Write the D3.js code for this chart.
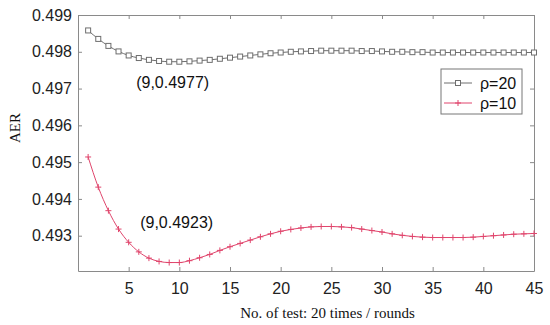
<!DOCTYPE html>
<html>
<head>
<meta charset="utf-8">
<script src="https://cdn.jsdelivr.net/npm/d3@7"></script>
<style>
  body { margin: 0; background: #fff; }
  .tick text { font-family: "Liberation Sans", Arial, sans-serif; font-size: 16px; fill: #222; }
</style>
</head>
<body>
<div id="chart"></div>
<script>
/* values, x = 1..45 */
var rounds = d3.range(1, 46);

var rho20 = [0.49858, 0.49835, 0.49816, 0.49801, 0.49790, 0.49783, 0.49778, 0.49775, 0.49773, 0.49773,
             0.49774, 0.49776, 0.49778, 0.49781, 0.49784, 0.49787, 0.49790, 0.49793, 0.49796, 0.49798,
             0.49800, 0.49801, 0.49802, 0.49803, 0.49803, 0.49803, 0.49803, 0.49802, 0.49802, 0.49801,
             0.49800, 0.49800, 0.49799, 0.49799, 0.49798, 0.49798, 0.49798, 0.49798, 0.49798, 0.49798,
             0.49798, 0.49798, 0.49798, 0.49798, 0.49798];

var rho10 = [0.49514, 0.49432, 0.49368, 0.49318, 0.49282, 0.49256, 0.49239, 0.49230, 0.49227, 0.49227,
             0.49232, 0.49240, 0.49249, 0.49260, 0.49270, 0.49279, 0.49288, 0.49297, 0.49305, 0.49312,
             0.49317, 0.49321, 0.49324, 0.49325, 0.49325, 0.49324, 0.49322, 0.49318, 0.49314, 0.49310,
             0.49305, 0.49301, 0.49298, 0.49296, 0.49295, 0.49295, 0.49295, 0.49295, 0.49296, 0.49298,
             0.49300, 0.49302, 0.49304, 0.49305, 0.49306];

var xTicks = [5, 10, 15, 20, 25, 30, 35, 40, 45];
var yTicks = [0.493, 0.494, 0.495, 0.496, 0.497, 0.498, 0.499];

var notes = [
  {x: 9, y: 0.4977, text: "(9,0.4977)"},
  {x: 9, y: 0.4923, text: "(9,0.4923)"}
];

var width = 550, height = 325;
var margin = {top: 15, right: 15, bottom: 54, left: 78};
var innerW = width - margin.left - margin.right,
    innerH = height - margin.top - margin.bottom;

var svg = d3.select("#chart").append("svg")
  .attr("width", width)
  .attr("height", height);

var g = svg.append("g")
  .attr("transform", "translate(" + margin.left + "," + margin.top + ")");

var x = d3.scaleLinear().domain([0, 45]).range([0, innerW - 1]);
var y = d3.scaleLinear().domain([0.49204, 0.499]).range([innerH, 0]);

var axisColor = "#8a8a8a";

// axes, ticks pointing inward
var xAxis = g.append("g")
  .attr("transform", "translate(0," + innerH + ")")
  .call(d3.axisBottom(x).tickValues(xTicks).tickSizeInner(-4).tickSizeOuter(0).tickPadding(12));
var yAxis = g.append("g")
  .call(d3.axisLeft(y).tickValues(yTicks).tickFormat(d3.format(".3f")).tickSizeInner(-4).tickSizeOuter(0).tickPadding(6));
var xTop = g.append("g")
  .call(d3.axisTop(x).tickValues(xTicks).tickSizeInner(-4).tickSizeOuter(0).tickFormat(""));
var yRight = g.append("g")
  .attr("transform", "translate(" + x(45) + ",0)")
  .call(d3.axisRight(y).tickValues(yTicks).tickSizeInner(-4).tickSizeOuter(0).tickFormat(""));

[xAxis, yAxis, xTop, yRight].forEach(function(a) {
  a.selectAll(".domain, .tick line").attr("stroke", axisColor);
});

var line = d3.line()
  .x(function(d, i) { return x(rounds[i]); })
  .y(function(d) { return y(d); })
  .curve(d3.curveMonotoneX);

var gray = "#6e6e6e", red = "#e0456c";

g.append("path").datum(rho20)
  .attr("fill", "none").attr("stroke", gray).attr("stroke-width", 1)
  .attr("d", line);

g.selectAll(".sq").data(rho20).enter().append("rect")
  .attr("class", "sq")
  .attr("x", function(d, i) { return x(rounds[i]) - 2.5; })
  .attr("y", function(d) { return y(d) - 2.5; })
  .attr("width", 5).attr("height", 5)
  .attr("fill", "#fff").attr("stroke", gray).attr("stroke-width", 1);

g.append("path").datum(rho10)
  .attr("fill", "none").attr("stroke", red).attr("stroke-width", 1)
  .attr("d", line);

g.selectAll(".pl").data(rho10).enter().append("path")
  .attr("class", "pl")
  .attr("transform", function(d, i) { return "translate(" + x(rounds[i]) + "," + y(d) + ")"; })
  .attr("d", "M-3,0H3M0,-3V3")
  .attr("stroke", red).attr("stroke-width", 1).attr("fill", "none");

// annotations
g.selectAll(".note").data(notes).enter().append("text")
  .attr("x", function(d, i) { return x(d.x) - (i == 0 ? 33 : 29); })
  .attr("y", function(d, i) { return i == 0 ? y(d.y) + 25 : y(d.y) - 33; })
  .attr("font-family", "Liberation Sans, Arial, sans-serif")
  .attr("font-size", 16)
  .attr("fill", "#111")
  .text(function(d) { return d.text; });

// legend
var lg = g.append("g").attr("transform", "translate(" + (441 - margin.left) + "," + (69 - margin.top) + ")");
lg.append("rect").attr("width", 81).attr("height", 45)
  .attr("fill", "#fff").attr("stroke", "#777").attr("stroke-width", 1);
var items = [{label: "ρ=20", color: gray, mark: "sq"}, {label: "ρ=10", color: red, mark: "pl"}];
items.forEach(function(it, i) {
  var yy = 14 + i * 20;
  lg.append("line").attr("x1", 3).attr("x2", 31).attr("y1", yy).attr("y2", yy)
    .attr("stroke", it.color).attr("stroke-width", 1);
  if (it.mark == "sq") {
    lg.append("rect").attr("x", 14.5).attr("y", yy - 2.5).attr("width", 5).attr("height", 5)
      .attr("fill", "#fff").attr("stroke", it.color);
  } else {
    lg.append("path").attr("transform", "translate(17," + yy + ")")
      .attr("d", "M-3,0H3M0,-3V3").attr("stroke", it.color);
  }
  lg.append("text").attr("x", 39).attr("y", yy + 6)
    .attr("font-family", "Liberation Sans, Arial, sans-serif")
    .attr("font-size", 16).attr("fill", "#111")
    .text(it.label);
});

// axis titles
svg.append("text")
  .attr("x", margin.left + innerW / 2 + 21)
  .attr("y", 318)
  .attr("text-anchor", "middle")
  .attr("font-family", "Liberation Serif, Times New Roman, serif")
  .attr("font-size", 15)
  .attr("fill", "#111")
  .text("No. of test: 20 times / rounds");

svg.append("text")
  .attr("transform", "translate(20,128) rotate(-90)")
  .attr("text-anchor", "middle")
  .attr("font-family", "Liberation Serif, Times New Roman, serif")
  .attr("font-size", 15)
  .attr("fill", "#111")
  .text("AER");
</script>
</body>
</html>
